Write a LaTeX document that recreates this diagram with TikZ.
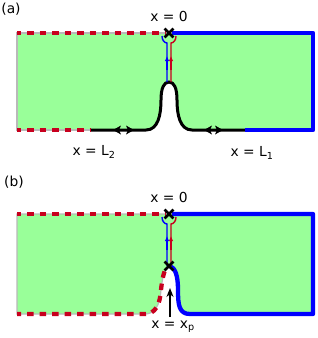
\documentclass[tikz,border=0pt]{standalone}
\usepackage{fontspec}
\setmainfont{DejaVu Sans}
\usetikzlibrary{arrows.meta,shapes.misc}
\definecolor{fillg}{RGB}{153,255,153}
\definecolor{dred}{RGB}{200,0,30}
\definecolor{dblue}{RGB}{0,0,255}
\definecolor{edge}{RGB}{185,185,185}
\begin{document}
\begin{tikzpicture}[x=1pt,y=-1pt,
  redd/.style={draw=dred,line width=4.3pt,dash pattern=on 6.5pt off 6pt,dash phase=2.5pt},
  bluel/.style={draw=dblue,line width=4.3pt,line join=round},
  blackl/.style={draw=black,line width=3pt},
  grayl/.style={draw=edge,line width=1.2pt},
  thinb/.style={draw=dblue,line width=1.4pt},
  thinr/.style={draw=dred,line width=1.4pt},
  uptip/.style={-{Latex[length=5pt,width=4.5pt]}},
  xmk/.style={cross out,draw=black,line width=2.8pt,minimum size=6pt,inner sep=0pt},
  lab/.style={font=\fontsize{13.8}{16}\selectfont,inner sep=0pt},
  tipa/.style={fill=black}]
\useasboundingbox (0,0) rectangle (318,338);

% ---------------- panel (a) ----------------
\fill[fillg] (17,33) -- (313,33) -- (313,130) -- (192,130)
  .. controls (180,130) and (177,115) .. (177,100)
  .. controls (177,88) and (174,82) .. (169,82)
  .. controls (164,82) and (161,88) .. (161,100)
  .. controls (161,115) and (158,130) .. (146,130) -- (17,130) -- cycle;
\draw[grayl] (91,130) -- (17,130) -- (17,33) -- (165,33);
\draw[redd] (17,33) -- (165,33);
\draw[redd] (17,130) -- (91,130);
\draw[blackl] (91,130) -- (146,130)
  .. controls (158,130) and (161,115) .. (161,100)
  .. controls (161,88) and (164,82) .. (169,82)
  .. controls (174,82) and (177,88) .. (177,100)
  .. controls (177,115) and (180,130) .. (192,130) -- (245,130);
\draw[bluel] (172,33) -- (313,33) -- (313,130) -- (245,130);
% double arrowheads on the black line
\fill[tipa] (113,130) -- (121,125.5) -- (119,130) -- (121,134.5) -- cycle;
\fill[tipa] (134,130) -- (126,125.5) -- (128,130) -- (126,134.5) -- cycle;
\fill[tipa] (204,130) -- (212,125.5) -- (210,130) -- (212,134.5) -- cycle;
\fill[tipa] (223,130) -- (215,125.5) -- (217,130) -- (215,134.5) -- cycle;
% vertical lines
\draw[thinb] (162,36) arc[start angle=180,end angle=90,x radius=5,y radius=7] -- (167,82);
\draw[thinr] (176,36) arc[start angle=0,end angle=90,x radius=5,y radius=7] -- (171,82);
\draw[thinb,uptip] (167,70) -- (167,56);
\draw[thinr,uptip] (171,70) -- (171,56);
\node[xmk] (ca) at (169,33) {};
% labels
\node[lab] (a0lab) at (169,16.5) {x = 0};
\node[lab] (L2) at (94,152) {x = L\textsubscript{2}};
\node[lab] (L1) at (252,153) {x = L\textsubscript{1}};
\node[lab] (tagA) at (11,9) {(a)};

% ---------------- panel (b) ----------------
\fill[fillg] (17,214) -- (313,214) -- (313,314) -- (190,314)
  .. controls (179,314) and (178,305) .. (178,290)
  .. controls (178,275) and (175,268) .. (169,266)
  .. controls (164,270) and (162,280) .. (161,290)
  .. controls (160,305) and (155,314) .. (145,314) -- (17,314) -- cycle;
\draw[grayl] (169,266) .. controls (164,270) and (162,280) .. (161,290)
  .. controls (160,305) and (155,314) .. (145,314) -- (17,314) -- (17,214) -- (165,214);
\draw[redd] (17,214) -- (165,214);
\draw[redd] (17,314) -- (145,314)
  .. controls (155,314) and (160,305) .. (161,290)
  .. controls (162,280) and (164,270) .. (167,267);
\draw[bluel] (172,214) -- (313,214) -- (313,314) -- (190,314)
  .. controls (179,314) and (178,305) .. (178,290)
  .. controls (178,275) and (175,268) .. (170,266);
\draw[thinb] (162,217) arc[start angle=180,end angle=90,x radius=5,y radius=7] -- (167,266);
\draw[thinr] (176,217) arc[start angle=0,end angle=90,x radius=5,y radius=7] -- (171,266);
\draw[thinb,uptip] (167,250) -- (167,236);
\draw[thinr,uptip] (171,250) -- (171,236);
\node[xmk] (cb) at (169,214) {};
\node[xmk] (cp) at (169,266) {};
\node[lab] (b0lab) at (169,197) {x = 0};
\node[lab] (xplab) at (173,327) {x = x\textsubscript{p}};
\node[lab] (tagB) at (14,182) {(b)};
\coordinate (xp) at (170,288);
\draw[line width=1.3pt,-{Stealth[length=9pt,width=7pt]}] (170,317) -- (xp);
\end{tikzpicture}
\end{document}
